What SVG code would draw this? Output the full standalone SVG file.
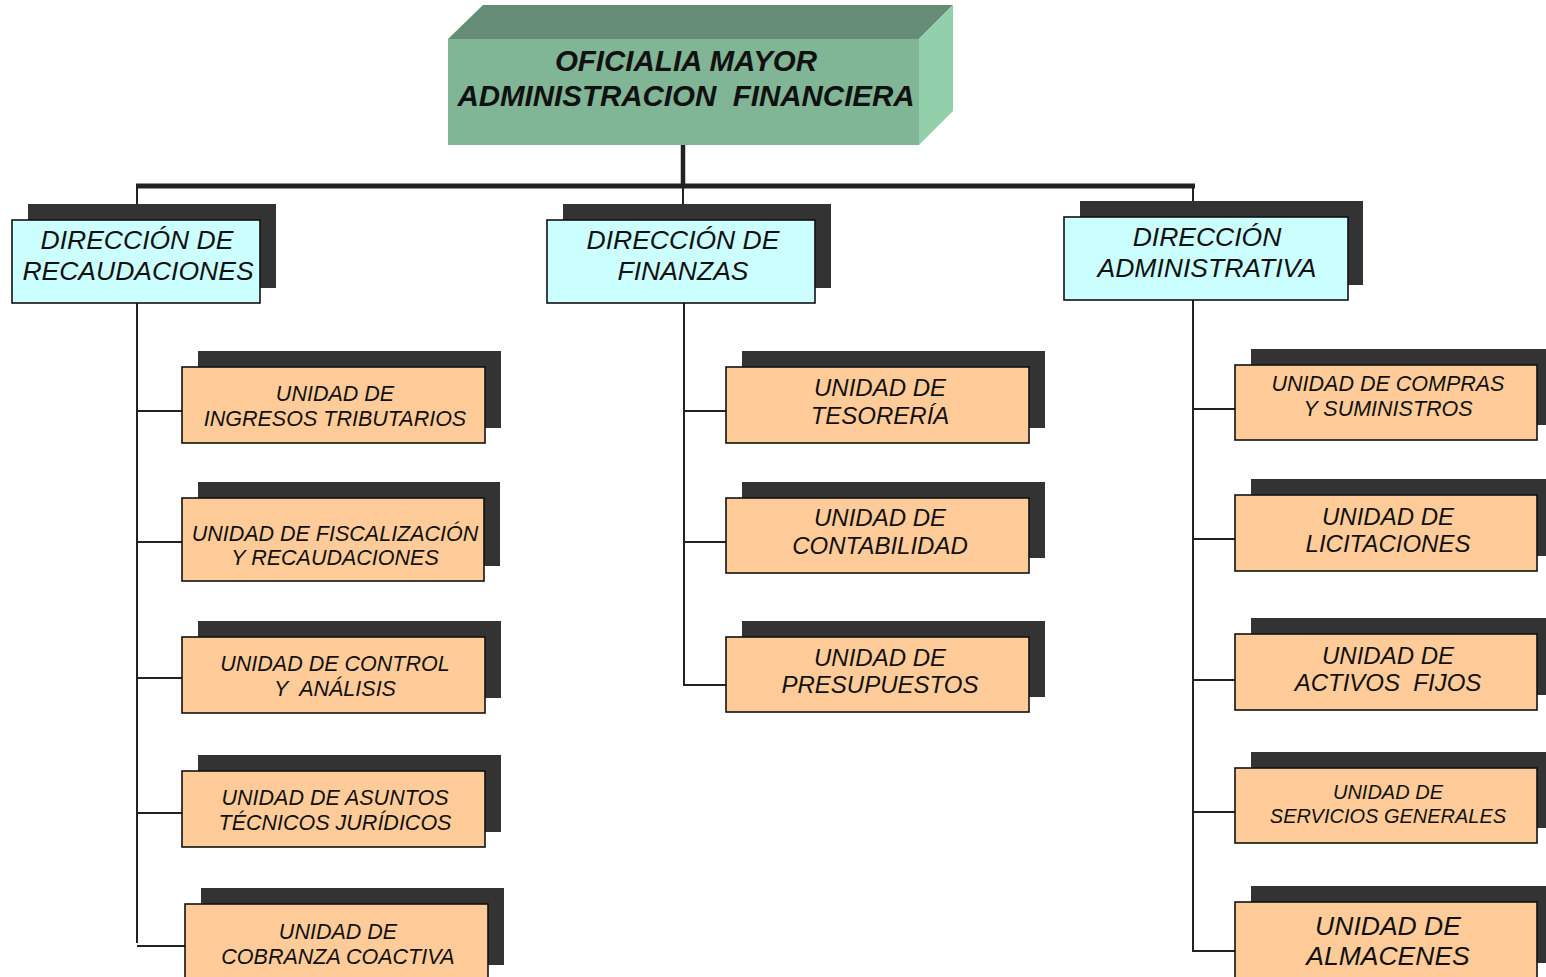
<svg xmlns="http://www.w3.org/2000/svg" width="1546" height="977" viewBox="0 0 1546 977">
<style>
text{font-family:"Liberation Sans",Arial,sans-serif;font-style:italic;fill:#111;text-anchor:middle}
.sh{fill:#333333}
.dir{fill:#CCFFFF;stroke:#111;stroke-width:1.6}
.uni{fill:#FFCC99;stroke:#111;stroke-width:1.6}
.ln{stroke:#222;stroke-width:2;fill:none}
.d{font-size:26.5px}
.u{font-size:21.5px}
.u24{font-size:24px}
.t{font-size:29.5px;font-weight:bold}
</style>
<rect width="1546" height="977" fill="#fff"/>
<g id="connectors">
<line x1="683" y1="145" x2="683" y2="186" stroke="#222" stroke-width="4.5"/>
<line x1="136" y1="186" x2="1195" y2="186" stroke="#222" stroke-width="5"/>
<line class="ln" x1="137" y1="186" x2="137" y2="206"/>
<line class="ln" x1="683" y1="186" x2="683" y2="206"/>
<line class="ln" x1="1193" y1="186" x2="1193" y2="203"/>
<path class="ln" d="M137 303V943M137 946H185"/>
<path class="ln" d="M137 411H182M137 542H182M137 678H182M137 813H182"/>
<path class="ln" d="M684 303V685H726M684 411H726M684 542H726"/>
<path class="ln" d="M1193 300V951H1235M1193 409H1235M1193 539H1235M1193 680H1235M1193 812H1235"/>
</g>
<g id="oficialia">
<polygon points="448,39 483,5 953,5 919,39" fill="#658d75"/>
<polygon points="919,39 953,5 953,111 919,145" fill="#92d0ab"/>
<rect x="448" y="39" width="471" height="106" fill="#80b596"/>
<text class="t" x="686" y="71">OFICIALIA MAYOR</text>
<text class="t" x="686" y="106" xml:space="preserve">ADMINISTRACION  FINANCIERA</text>
</g>
<g id="dir-recaudaciones">
<rect class="sh" x="28" y="204" width="248" height="84"/>
<rect class="dir" x="12" y="220" width="248" height="83"/>
<text class="d" x="137" y="249">DIRECCIÓN DE</text>
<text class="d" x="138" y="280">RECAUDACIONES</text>
</g>
<g id="dir-finanzas">
<rect class="sh" x="563" y="204" width="268" height="84"/>
<rect class="dir" x="547" y="220" width="268" height="83"/>
<text class="d" x="683" y="249">DIRECCIÓN DE</text>
<text class="d" x="683" y="280">FINANZAS</text>
</g>
<g id="dir-administrativa">
<rect class="sh" x="1080" y="201" width="283" height="84"/>
<rect class="dir" x="1064" y="217" width="284" height="83"/>
<text class="d" x="1207" y="246">DIRECCIÓN</text>
<text class="d" x="1207" y="277">ADMINISTRATIVA</text>
</g>
<g id="u-ingresos">
<rect class="sh" x="198" y="351" width="303" height="77"/>
<rect class="uni" x="182" y="367" width="303" height="76"/>
<text class="u" x="335" y="401">UNIDAD DE</text>
<text class="u" x="335" y="426">INGRESOS TRIBUTARIOS</text>
</g>
<g id="u-fiscalizacion">
<rect class="sh" x="198" y="482" width="302" height="84"/>
<rect class="uni" x="182" y="498" width="302" height="83"/>
<text class="u" x="335" y="541">UNIDAD DE FISCALIZACIÓN</text>
<text class="u" x="335" y="565">Y RECAUDACIONES</text>
</g>
<g id="u-control">
<rect class="sh" x="198" y="621" width="303" height="77"/>
<rect class="uni" x="182" y="637" width="303" height="76"/>
<text class="u" x="335" y="671">UNIDAD DE CONTROL</text>
<text class="u" x="335" y="696" xml:space="preserve">Y  ANÁLISIS</text>
</g>
<g id="u-asuntos">
<rect class="sh" x="198" y="755" width="303" height="77"/>
<rect class="uni" x="182" y="771" width="303" height="76"/>
<text class="u" x="335" y="805">UNIDAD DE ASUNTOS</text>
<text class="u" x="335" y="830">TÉCNICOS JURÍDICOS</text>
</g>
<g id="u-cobranza">
<rect class="sh" x="201" y="888" width="303" height="77"/>
<rect class="uni" x="185" y="904" width="303" height="76"/>
<text class="u" x="338" y="939">UNIDAD DE</text>
<text class="u" x="338" y="964">COBRANZA COACTIVA</text>
</g>
<g id="u-tesoreria">
<rect class="sh" x="742" y="351" width="303" height="77"/>
<rect class="uni" x="726" y="367" width="303" height="76"/>
<text class="u24" x="880" y="396">UNIDAD DE</text>
<text class="u24" x="880" y="424">TESORERÍA</text>
</g>
<g id="u-contabilidad">
<rect class="sh" x="742" y="482" width="303" height="76"/>
<rect class="uni" x="726" y="498" width="303" height="75"/>
<text class="u24" x="880" y="526">UNIDAD DE</text>
<text class="u24" x="880" y="554">CONTABILIDAD</text>
</g>
<g id="u-presupuestos">
<rect class="sh" x="742" y="621" width="303" height="76"/>
<rect class="uni" x="726" y="637" width="303" height="75"/>
<text class="u24" x="880" y="666">UNIDAD DE</text>
<text class="u24" x="880" y="693">PRESUPUESTOS</text>
</g>
<g id="u-compras">
<rect class="sh" x="1251" y="349" width="302" height="76"/>
<rect class="uni" x="1235" y="365" width="302" height="75"/>
<text class="u" x="1388" y="391">UNIDAD DE COMPRAS</text>
<text class="u" x="1388" y="416">Y SUMINISTROS</text>
</g>
<g id="u-licitaciones">
<rect class="sh" x="1251" y="479" width="302" height="77"/>
<rect class="uni" x="1235" y="495" width="302" height="76"/>
<text class="u24" x="1388" y="525">UNIDAD DE</text>
<text class="u24" x="1388" y="552">LICITACIONES</text>
</g>
<g id="u-activos">
<rect class="sh" x="1251" y="618" width="302" height="77"/>
<rect class="uni" x="1235" y="634" width="302" height="76"/>
<text class="u24" x="1388" y="664">UNIDAD DE</text>
<text class="u24" x="1388" y="691" xml:space="preserve">ACTIVOS  FIJOS</text>
</g>
<g id="u-servicios">
<rect class="sh" x="1251" y="752" width="302" height="76"/>
<rect class="uni" x="1235" y="768" width="302" height="75"/>
<text x="1388" y="799" style="font-size:20px">UNIDAD DE</text>
<text x="1388" y="823" style="font-size:20px">SERVICIOS GENERALES</text>
</g>
<g id="u-almacenes">
<rect class="sh" x="1251" y="886" width="302" height="77"/>
<rect class="uni" x="1235" y="902" width="302" height="80"/>
<text x="1388" y="935" style="font-size:26.5px">UNIDAD DE</text>
<text x="1388" y="965" style="font-size:26.5px">ALMACENES</text>
</g>
</svg>
